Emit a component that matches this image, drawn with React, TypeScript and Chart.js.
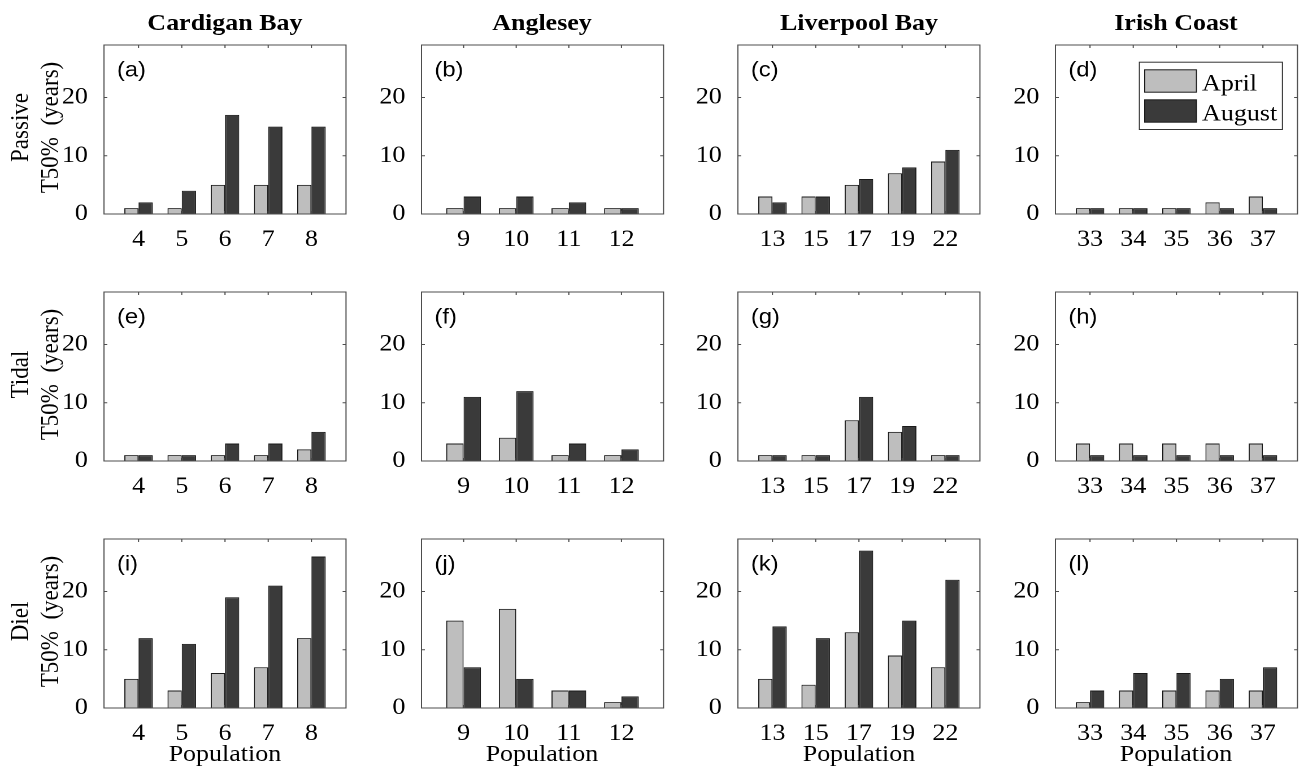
import React, { useEffect, useRef } from 'react';
import { Chart, registerables } from 'chart.js';
Chart.register(...registerables);

// ---------------- data ----------------
const regions = ['Cardigan Bay', 'Anglesey', 'Liverpool Bay', 'Irish Coast'];
const rowNames = ['Passive', 'Tidal', 'Diel'];
const yAxisSuffix = 'T50%  (years)';
const xAxisTitle = 'Population';
const seriesNames = ['April', 'August'];
const panelLetters = [
  ['a', 'b', 'c', 'd'],
  ['e', 'f', 'g', 'h'],
  ['i', 'j', 'k', 'l'],
];

const popCardigan = ['4', '5', '6', '7', '8'];
const popAnglesey = ['9', '10', '11', '12'];
const popLiverpool = ['13', '15', '17', '19', '22'];
const popIrish = ['33', '34', '35', '36', '37'];
const populations = [popCardigan, popAnglesey, popLiverpool, popIrish];

const passiveApril = [[1, 1, 5, 5, 5], [1, 1, 1, 1], [3, 3, 5, 7, 9], [1, 1, 1, 2, 3]];
const passiveAugust = [[2, 4, 17, 15, 15], [3, 3, 2, 1], [2, 3, 6, 8, 11], [1, 1, 1, 1, 1]];
const tidalApril = [[1, 1, 1, 1, 2], [3, 4, 1, 1], [1, 1, 7, 5, 1], [3, 3, 3, 3, 3]];
const tidalAugust = [[1, 1, 3, 3, 5], [11, 12, 3, 2], [1, 1, 11, 6, 1], [1, 1, 1, 1, 1]];
const dielApril = [[5, 3, 6, 7, 12], [15, 17, 3, 1], [5, 4, 13, 9, 7], [1, 3, 3, 3, 3]];
const dielAugust = [[12, 11, 19, 21, 26], [7, 5, 3, 2], [14, 12, 27, 15, 22], [3, 6, 6, 5, 7]];

const aprilRows = [passiveApril, tidalApril, dielApril];
const augustRows = [passiveAugust, tidalAugust, dielAugust];

const yTicks = [0, 10, 20];
const yMax = 29;

// ---------------- styling / layout ----------------
const S = 1.13; // horizontal stretch of the whole figure
const W = 1304 / S;
const colLeftReal = [104, 421, 738, 1055];
const plotWReal = 242;
const rowTop = [34.5, 282, 529];
const plotH = 179;
const ML = 45;
const MR = 10;
const MT = 10;
const MB = 40;

const serif = '"Liberation Serif", "Times New Roman", Times, serif';
const sans = '"Liberation Sans", Arial, Helvetica, sans-serif';
const aprilColor = '#bebebe';
const augustColor = '#3a3a3a';
const edgeColor = '#1a1a1a';
const frameColor = '#4d4d4d';

const framePlugin = {
  id: 'frame',
  afterDatasetsDraw(chart: any, _args: any, opts: any) {
    const { ctx, chartArea: a, scales } = chart;
    ctx.save();
    ctx.strokeStyle = frameColor;
    ctx.lineWidth = 1;
    ctx.strokeRect(a.left, a.top, a.right - a.left, a.bottom - a.top);
    const tl = 3;
    ctx.beginPath();
    scales.x.ticks.forEach((t: any) => {
      const px = scales.x.getPixelForValue(t.value);
      ctx.moveTo(px, a.top);
      ctx.lineTo(px, a.top + tl);
      ctx.moveTo(px, a.bottom);
      ctx.lineTo(px, a.bottom - tl);
    });
    yTicks.forEach((v) => {
      const py = scales.y.getPixelForValue(v);
      ctx.moveTo(a.left, py);
      ctx.lineTo(a.left + tl, py);
      ctx.moveTo(a.right, py);
      ctx.lineTo(a.right - tl, py);
    });
    ctx.stroke();

    ctx.fillStyle = '#000';
    ctx.font = `21px ${sans}`;
    ctx.textAlign = 'left';
    ctx.textBaseline = 'alphabetic';
    ctx.fillText(`(${opts.letter})`, a.left + 11.5, a.top + 31.5);

    if (opts.legend) {
      const ds = chart.data.datasets;
      const bx = a.left + 74.3;
      const by = a.top + 17.2;
      ctx.fillStyle = '#fff';
      ctx.fillRect(bx, by, 126.6, 67.3);
      ctx.strokeStyle = '#333';
      ctx.strokeRect(bx, by, 126.6, 67.3);
      const rows = [24.8, 54.8];
      ds.forEach((d: any, i: number) => {
        ctx.fillStyle = d.backgroundColor;
        ctx.fillRect(a.left + 79, a.top + rows[i], 45.8, 22.4);
        ctx.strokeStyle = edgeColor;
        ctx.strokeRect(a.left + 79, a.top + rows[i], 45.8, 22.4);
        ctx.fillStyle = '#000';
        ctx.font = `23px ${serif}`;
        ctx.fillText(d.label, a.left + 129.8, a.top + rows[i] + 20.7);
      });
    }
    ctx.restore();
  },
};

function Panel({ row, col }: { row: number; col: number }) {
  const ref = useRef<HTMLCanvasElement>(null);
  const pops = populations[col];
  const left = colLeftReal[col] / S - ML;
  const top = rowTop[row] - MT;
  const width = plotWReal / S + ML + MR;
  const height = plotH + MT + MB;

  useEffect(() => {
    const april = aprilRows[row][col];
    const august = augustRows[row][col];
    const chart = new Chart(ref.current as HTMLCanvasElement, {
      type: 'bar',
      data: {
        datasets: [
          {
            label: seriesNames[0],
            data: april.map((v, i) => ({ x: i + 1, y: v })),
            backgroundColor: aprilColor,
            borderColor: edgeColor,
            borderWidth: 1,
            categoryPercentage: 0.66,
            barPercentage: 1,
          },
          {
            label: seriesNames[1],
            data: august.map((v, i) => ({ x: i + 1, y: v })),
            backgroundColor: augustColor,
            borderColor: edgeColor,
            borderWidth: 1,
            categoryPercentage: 0.66,
            barPercentage: 1,
          },
        ] as any,
      },
      options: {
        animation: false,
        responsive: true,
        maintainAspectRatio: false,
        devicePixelRatio: 2,
        layout: { padding: { left: 0, right: MR, top: MT, bottom: 0 } },
        plugins: {
          legend: { display: false },
          tooltip: { enabled: false },
          frame: { letter: panelLetters[row][col], legend: row === 0 && col === 3 },
        } as any,
        scales: {
          x: {
            type: 'linear',
            offset: false,
            min: 0.2,
            max: pops.length + 0.8,
            grid: { display: false },
            border: { display: false },
            afterBuildTicks: (s: any) => {
              s.ticks = pops.map((_, i) => ({ value: i + 1 }));
            },
            afterFit: (s: any) => {
              s.height = MB;
            },
            ticks: {
              autoSkip: false,
              maxRotation: 0,
              padding: 4,
              color: '#000',
              font: { family: serif, size: 23 },
              callback: (v: any) => pops[Math.round(Number(v)) - 1],
            },
          },
          y: {
            min: 0,
            max: yMax,
            grid: { display: false },
            border: { display: false },
            afterBuildTicks: (s: any) => {
              s.ticks = yTicks.map((v) => ({ value: v }));
            },
            afterFit: (s: any) => {
              s.width = ML;
            },
            ticks: {
              padding: 6.2,
              color: '#000',
              font: { family: serif, size: 23 },
            },
          },
        },
      } as any,
      plugins: [framePlugin],
    });
    return () => chart.destroy();
  }, [row, col]);

  return (
    <div style={{ position: 'absolute', left, top, width, height }}>
      <canvas ref={ref} />
    </div>
  );
}

export default function App() {
  const panels: any[] = [];
  for (let r = 0; r < 3; r++) for (let c = 0; c < 4; c++) panels.push(<Panel key={`${r}-${c}`} row={r} col={c} />);
  const colCenter = (c: number) => (colLeftReal[c] + plotWReal / 2) / S;
  return (
    <div
      style={{
        position: 'fixed',
        left: 0,
        top: 0,
        width: W,
        height: 780,
        background: '#fff',
        transform: `scaleX(${S})`,
        transformOrigin: '0 0',
        overflow: 'hidden',
      }}
    >
      {panels}
      {regions.map((t, c) => (
        <div
          key={t}
          style={{
            position: 'absolute',
            left: colCenter(c) - 120,
            width: 240,
            top: 8.2,
            lineHeight: '30px',
            textAlign: 'center',
            fontFamily: serif,
            fontWeight: 'bold',
            fontSize: 23,
            color: '#000',
            whiteSpace: 'nowrap',
          }}
        >
          {t}
        </div>
      ))}
      {regions.map((t, c) => (
        <div
          key={'x' + t}
          style={{
            position: 'absolute',
            left: colCenter(c) - 120,
            width: 240,
            top: 739,
            lineHeight: '30px',
            textAlign: 'center',
            fontFamily: serif,
            fontSize: 23,
            color: '#000',
          }}
        >
          {xAxisTitle}
        </div>
      ))}
      {rowNames.map((n, r) => (
        <div
          key={n}
          style={{
            position: 'absolute',
            left: 31 - 100,
            width: 200,
            top: rowTop[r] + plotH / 2 + 3 - 26.5,
            height: 53,
            lineHeight: '26.5px',
            textAlign: 'center',
            fontFamily: serif,
            fontSize: 23,
            color: '#000',
            whiteSpace: 'pre',
            transform: 'rotate(-90deg)',
          }}
        >
          {n}
          <br />
          {yAxisSuffix}
        </div>
      ))}
    </div>
  );
}
